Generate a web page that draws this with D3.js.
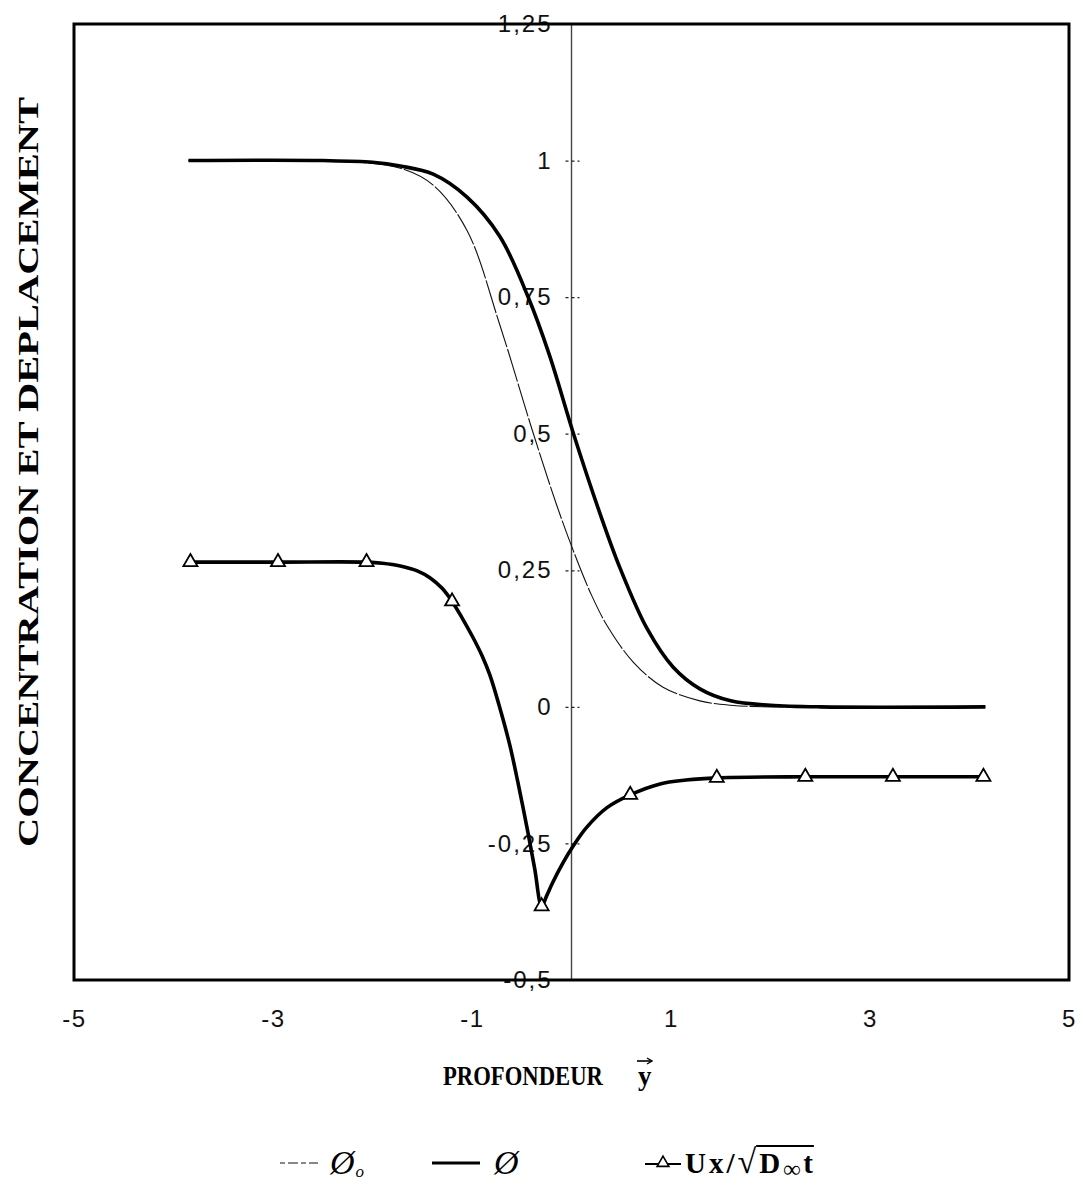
<!DOCTYPE html>
<html><head><meta charset="utf-8">
<script src="https://cdn.jsdelivr.net/npm/d3@7"></script>
<style>body{margin:0;background:#fff}svg{display:block}</style>
</head><body>
<svg id="c" width="1086" height="1204"></svg>
<script>
// ---- data ----
const xTicks = [-5, -3, -1, 1, 3, 5];
const yTicks = [1.25, 1, 0.75, 0.5, 0.25, 0, -0.25, -0.5];
const yTickLabels = ["1,25", "1", "0,75", "0,5", "0,25", "0", "-0,25", "-0,5"];

// phi (thick solid)
const phiX = [-3.85, -2.5, -2.0, -1.72, -1.39, -1.05, -0.72, -0.44, -0.22, 0.02, 0.29, 0.49, 0.76, 1.02, 1.29, 1.6, 2.0, 2.5, 4.16];
const phiY = [1, 1, 0.997, 0.99, 0.975, 0.933, 0.861, 0.752, 0.643, 0.50, 0.352, 0.253, 0.143, 0.073, 0.033, 0.011, 0.003, 0, 0];

// phi0 (thin dashed)
const phi0X = [-3.85, -2.5, -2.2, -1.72, -1.39, -1.05, -0.72, -0.39, -0.15, 0.02, 0.2, 0.36, 0.62, 0.92, 1.29, 1.6, 2.0, 4.16];
const phi0Y = [1, 1, 0.998, 0.986, 0.955, 0.872, 0.699, 0.504, 0.370, 0.285, 0.205, 0.148, 0.082, 0.036, 0.011, 0.003, 0, 0];

// Ux / sqrt(D t) curve
const uxX = [-3.83, -2.95, -2.06, -1.9, -1.72, -1.55, -1.42, -1.30, -1.20, -1.10, -0.99, -0.90, -0.82, -0.72, -0.62, -0.54, -0.44, -0.37, -0.30, -0.25, -0.19, -0.09, 0.02, 0.15, 0.36, 0.59, 0.89, 1.15, 1.46, 2.35, 3.23, 4.14];
const uxY = [0.265, 0.265, 0.265, 0.263, 0.258, 0.249, 0.236, 0.217, 0.193, 0.163, 0.127, 0.094, 0.058, -0.002, -0.070, -0.137, -0.228, -0.296, -0.365, -0.346, -0.322, -0.287, -0.254, -0.221, -0.184, -0.161, -0.141, -0.134, -0.130, -0.128, -0.128, -0.128];
// triangle markers
const mkX = [-3.83, -2.95, -2.06, -1.20, -0.30, 0.59, 1.46, 2.35, 3.23, 4.14];
const mkY = [0.265, 0.265, 0.265, 0.193, -0.365, -0.161, -0.130, -0.128, -0.128, -0.128];

// ---- drawing ----
const svg = d3.select("#c");
const x = d3.scaleLinear().domain([-5, 5]).range([74, 1069]);
const y = d3.scaleLinear().domain([-0.5, 1.25]).range([980, 24]);

// vertical axis line at x = 0
svg.append("line").attr("x1", x(0)).attr("x2", x(0)).attr("y1", y(1.25)).attr("y2", y(-0.5))
  .attr("stroke", "#444").attr("stroke-width", 1.4);

// y axis labels
const yAxis = d3.axisLeft(y).tickValues(yTicks)
  .tickFormat((d, i) => yTickLabels[i]).tickSizeInner(0).tickSizeOuter(0).tickPadding(19);
const gy = svg.append("g").attr("transform", `translate(${x(0)},0)`).call(yAxis);
gy.select(".domain").remove();
gy.selectAll(".tick text").attr("font-family", "Liberation Sans, Arial, sans-serif")
  .attr("font-size", 24).attr("letter-spacing", 2).attr("fill", "#111");
gy.selectAll(".tick").append("line").attr("x1", -6).attr("x2", 8)
  .attr("stroke", "#222").attr("stroke-width", 1.2).attr("stroke-dasharray", "3,3");

// x axis labels
const xAxis = d3.axisBottom(x).tickValues(xTicks).tickFormat(d => String(d))
  .tickSizeInner(0).tickSizeOuter(0).tickPadding(30);
const gx = svg.append("g").attr("transform", `translate(0,${y(-0.5)})`).call(xAxis);
gx.select(".domain").remove();
gx.selectAll(".tick text").attr("font-family", "Liberation Sans, Arial, sans-serif")
  .attr("font-size", 24).attr("letter-spacing", 1.5).attr("fill", "#111");

// lines
const smooth = d3.line().x(d => x(d[0])).y(d => y(d[1])).curve(d3.curveCatmullRom.alpha(0.5));
svg.append("path").datum(phi0X.map((v, i) => [v, phi0Y[i]])).attr("d", smooth)
  .attr("fill", "none").attr("stroke", "#111").attr("stroke-width", 1.1).attr("stroke-dasharray", "34,2");
svg.append("path").datum(phiX.map((v, i) => [v, phiY[i]])).attr("d", smooth)
  .attr("fill", "none").attr("stroke", "#000").attr("stroke-width", 3.6);
svg.append("path").datum(uxX.map((v, i) => [v, uxY[i]])).attr("d", smooth)
  .attr("fill", "none").attr("stroke", "#000").attr("stroke-width", 3.6);

const tri = d3.symbol().type(d3.symbolTriangle).size(85);
svg.selectAll(".mk").data(mkX.map((v, i) => [v, mkY[i]])).enter().append("path")
  .attr("transform", d => `translate(${x(d[0])},${y(d[1])})`).attr("d", tri)
  .attr("fill", "#fff").attr("stroke", "#000").attr("stroke-width", 1.8);

// frame
svg.append("rect").attr("x", 74).attr("y", 24).attr("width", 1069 - 74).attr("height", 980 - 24)
  .attr("fill", "none").attr("stroke", "#000").attr("stroke-width", 3);

// axis titles
const serif = "Liberation Serif, Times New Roman, serif";
svg.append("text").attr("transform", "translate(38,472) rotate(-90)")
  .attr("text-anchor", "middle").attr("font-family", serif).attr("font-weight", "bold")
  .attr("font-size", 30).attr("textLength", 750).attr("lengthAdjust", "spacingAndGlyphs")
  .text("CONCENTRATION ET DEPLACEMENT");

const pf = svg.append("text").attr("font-family", serif)
  .attr("font-weight", "bold").attr("font-size", 28).text("PROFONDEUR");
const pfW = pf.node().getComputedTextLength();
pf.attr("transform", `translate(443,1085) scale(${160 / pfW},1)`);
svg.append("text").attr("x", 638).attr("y", 1085).attr("font-family", serif)
  .attr("font-weight", "bold").attr("font-size", 27).text("y");
// arrow above y
svg.append("line").attr("x1", 637).attr("x2", 652).attr("y1", 1061).attr("y2", 1061)
  .attr("stroke", "#000").attr("stroke-width", 1.6);
svg.append("path").attr("d", "M647,1058 L652,1061 L647,1064").attr("fill", "none")
  .attr("stroke", "#000").attr("stroke-width", 1.4);

// legend
const ly = 1163;
svg.append("line").attr("x1", 280).attr("x2", 318).attr("y1", ly).attr("y2", ly)
  .attr("stroke", "#111").attr("stroke-width", 1.2).attr("stroke-dasharray", "5,3,10,3");
const l1 = svg.append("text").attr("x", 330).attr("y", ly + 11).attr("font-family", serif)
  .attr("font-style", "italic").attr("font-size", 34);
l1.append("tspan").text("Ø");
l1.append("tspan").attr("font-size", 17).attr("dy", 3).attr("dx", 1).text("o");

svg.append("line").attr("x1", 432).attr("x2", 480).attr("y1", ly).attr("y2", ly)
  .attr("stroke", "#000").attr("stroke-width", 3.2);
svg.append("text").attr("x", 494).attr("y", ly + 11).attr("font-family", serif)
  .attr("font-style", "italic").attr("font-size", 34).text("Ø");

svg.append("line").attr("x1", 645).attr("x2", 681).attr("y1", ly + 1).attr("y2", ly + 1)
  .attr("stroke", "#000").attr("stroke-width", 2.2);
svg.append("path").attr("transform", `translate(663,${ly})`).attr("d", d3.symbol().type(d3.symbolTriangle).size(60))
  .attr("fill", "#fff").attr("stroke", "#000").attr("stroke-width", 1.6);
const l3 = svg.append("text").attr("x", 685).attr("y", ly + 10).attr("font-family", serif)
  .attr("font-weight", "bold").attr("font-size", 29).attr("letter-spacing", 3);
l3.append("tspan").text("Ux/");
l3.append("tspan").attr("font-size", 34).attr("font-weight", "normal").text("√");
const dSpan = l3.append("tspan").text("D");
l3.append("tspan").attr("font-size", 24).attr("dy", 4).text("∞");
l3.append("tspan").attr("dy", -4).text("t");
const b3 = l3.node().getBBox();
const dStart = dSpan.node().getStartPositionOfChar(0).x;
svg.append("line").attr("x1", dStart - 3).attr("x2", b3.x + b3.width - 2).attr("y1", b3.y + 3).attr("y2", b3.y + 3)
  .attr("stroke", "#000").attr("stroke-width", 1.8);
</script>
</body></html>
